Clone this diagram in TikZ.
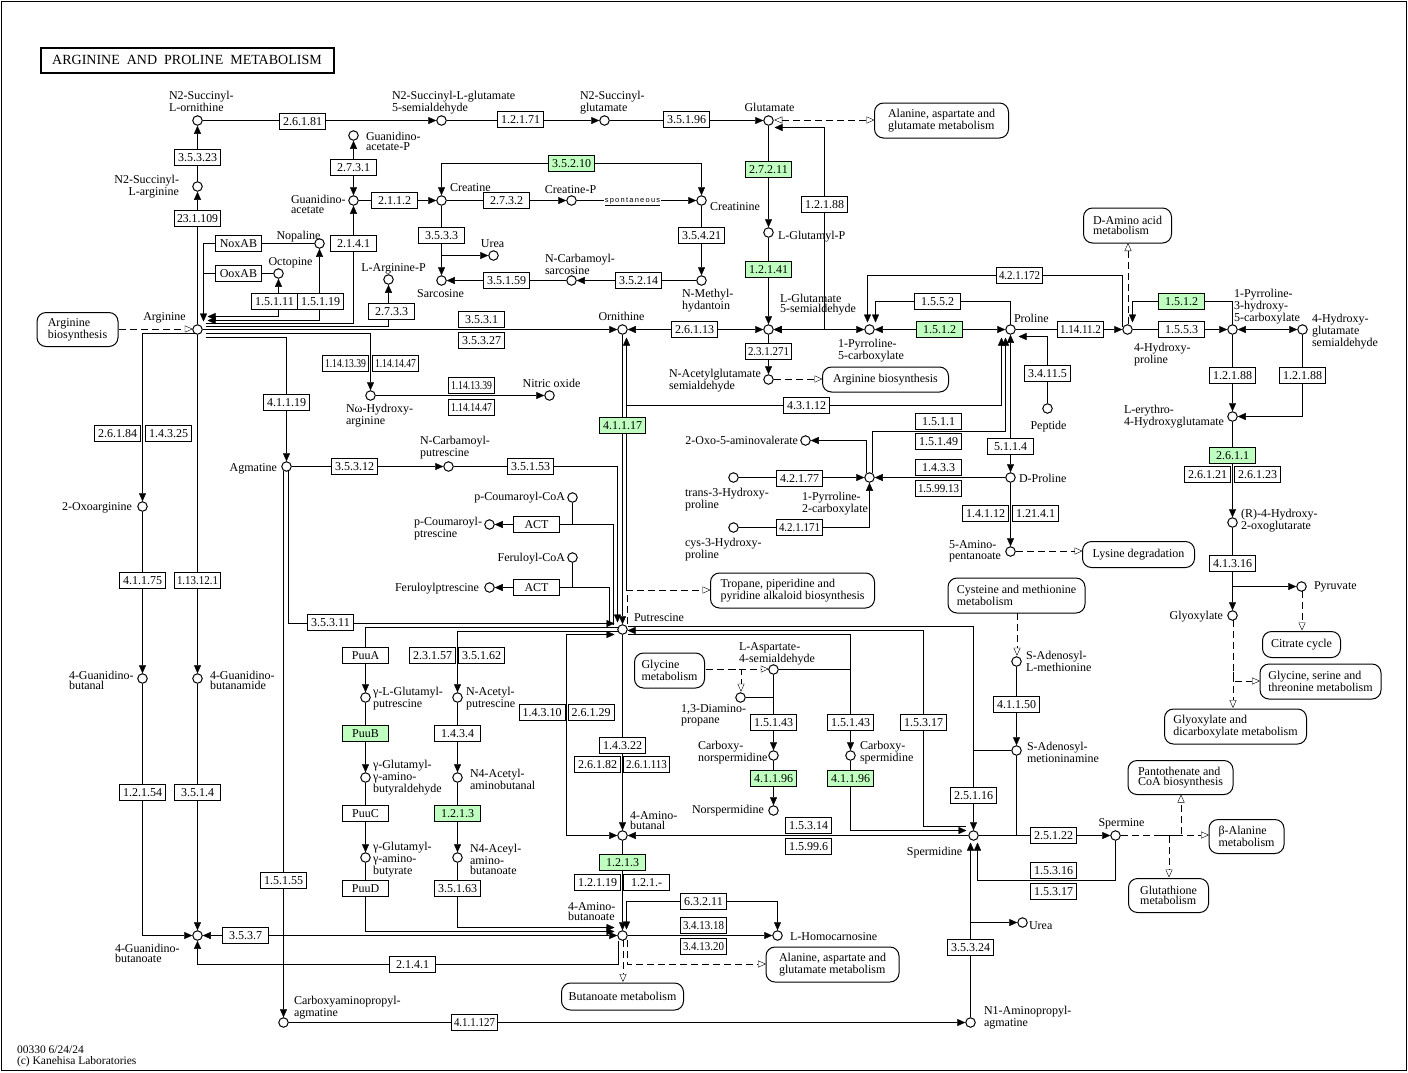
\documentclass[tikz,border=0pt]{standalone}
\usepackage{fontspec}
\usepackage{graphicx}
\setmainfont{Liberation Serif}
\newfontfamily\sansf{Liberation Sans}
\usetikzlibrary{arrows.meta,backgrounds,calc}
\definecolor{kg}{HTML}{BFFFBF}
\newcommand\lfnt{\fontsize{12}{10.5}\selectfont}
\newcommand\ecfnt{\fontsize{12}{12}\selectfont}
\newcommand\ect[1]{\sbox0{#1}\ifdim\wd0>41pt\resizebox{41pt}{\ht0}{#1}\else\box0\fi}
\tikzset{
  >={Triangle[length=8pt,width=7pt]},
  Otip/.tip={Triangle[open,length=8pt,width=7pt]},
  cpd/.style={circle,draw,fill=white,inner sep=0pt,minimum size=9.5pt},
  ec/.style={draw,fill=white,inner sep=0pt,minimum width=46pt,minimum height=16pt,font=\ecfnt},
  ecg/.style={ec,fill=kg},
  mp/.style={draw,fill=white,rounded corners=9pt,inner sep=0pt,align=left,font=\lfnt},
  lb/.style={inner sep=0pt,font=\lfnt,align=left},
  lbr/.style={inner sep=0pt,font=\lfnt,align=right},
  dsh/.style={dash pattern=on 7pt off 4pt,transform canvas={shift={(0.5pt,0.5pt)}}}
}
\begin{document}
\begin{tikzpicture}[x=1pt,y=-1pt,line width=1pt]
\useasboundingbox (-0.5,-0.5) rectangle (1407.5,1071.5);
\draw (1,1) rectangle (1406,1070);
\node[draw,line width=2pt,inner sep=0pt,minimum width=293pt,minimum height=25pt,font=\fontsize{14}{14}\selectfont] (title) at (186.5,59.5) {ARGININE\ \ AND\ \ PROLINE\ \ METABOLISM};
\node[lb,anchor=west,font=\fontsize{11.5}{11.5}\selectfont] (foot) at (16,1056) {00330 6/24/24\\(c) Kanehisa Laboratories};
% ---------------- compounds
\foreach \n/\x/\y in {arg/197/329,n2sa/197/186,n2so/197/120,n2sgsa/441/120,n2sg/604/120,glu/768/120,
 gaap/353/135,gaa/353/200,nop/319/243,oct/278/273,argp/388/279,crt/441/200,crp/571/200,crn/701/200,
 urea1/493/255,sar/441/280,ncs/571/280,nmh/701/280,glup/768/232,lgsa/768/329,orn/622/329,nags/768/379,
 p5c/869/329,pro/1010/329,hyp/1127/329,p3h/1232/329,hgsa/1302/329,leh/1232/416,rhog/1232/522,
 pyr/1301/586,glyox/1232/615,pep/1047/408,dpro/1010/477,ap5/1010/551,oxo/805/440,p2c/869/477,
 t3hp/733/477,c3hp/733/527,noha/370/395,no/549/395,agm/286/466,ncp/448/466,pcoa/572/497,pcp/489/524,
 fcoa/572/557,fp/489/587,put/622/629,o2arg/142/506,gbal/142/678,gbam/197/678,gbo/197/935,cap/283/1022,
 gglp/365/697,ggab/365/777,ggaba/365/857,nap/457/697,n4a/457/777,n4aab/457/857,aba/622/835,abo/622/935,
 hcar/777/935,lasa/773/669,dap/740/697,cnspd/773/755,nspd/773/810,cspd/850/755,spd/973/835,
 sam/1016/661,samn/1016/750,spm/1115/835,urea2/1022/922,n1apa/970/1022}
 {\node[cpd] (\n) at (\x,\y) {};}
% ---------------- enzymes
\foreach \n/\x/\y/\t in {e1/302/121/2.6.1.81,e2/520/119/1.2.1.71,e3/686/119/3.5.1.96,e4/197/157/3.5.3.23,
 e5/197/218/23.1.109,e6/353/167/2.7.3.1,e7/394/200/2.1.1.2,e8/353/243/2.1.4.1,e9/238/243/NoxAB,
 e10/238/273/OoxAB,e11/274/301/1.5.1.11,e12/320/301/1.5.1.19,e13/391/311/2.7.3.3,e15/506/200/2.7.3.2,
 e16/441/235/3.5.3.3,e17/701/235/3.5.4.21,e18/506/280/3.5.1.59,e19/638/280/3.5.2.14,e20/481/319/3.5.3.1,
 e21/481/340/3.5.3.27,e23/824/204/1.2.1.88,e25/694/329/2.6.1.13,e26/768/351/2.3.1.271,
 e27/1019/275/4.2.1.172,e28/937/301/1.5.5.2,e30/1080/329/1.14.11.2,e32/1181/329/1.5.5.3,
 e33/1232/375/1.2.1.88,e34/1302/375/1.2.1.88,e36/1207/474/2.6.1.21,e37/1257/474/2.6.1.23,
 e38/1232/563/4.1.3.16,e39/1047/373/3.4.11.5,e40/1010/446/5.1.1.4,e41/985/513/1.4.1.12,
 e42/1035/513/1.21.4.1,e43/938/421/1.5.1.1,e44/938/441/1.5.1.49,e45/938/467/1.4.3.3,
 e46/938/488/1.5.99.13,e47/799/478/4.2.1.77,e48/799/527/4.2.1.171,e49/806/405/4.3.1.12,
 e54/286/402/4.1.1.19,e55/117/433/2.6.1.84,e56/168/433/1.4.3.25,e57/142/580/4.1.1.75,
 e58/197/580/1.13.12.1,e59/354/466/3.5.3.12,e60/530/466/3.5.1.53,e61/536/524/ACT,e62/536/587/ACT,
 e64/330/622/3.5.3.11,e65/365/655/PuuA,e66/432/655/2.3.1.57,e67/481/655/3.5.1.62,e69/457/733/1.4.3.4,
 e70/365/813/PuuC,e72/365/888/PuuD,e73/457/888/3.5.1.63,e74/541.5/712/1.4.3.10,e75/590.5/712/2.6.1.29,
 e76/622/745/1.4.3.22,e77/597/764/2.6.1.82,e78/646/764/2.6.1.113,e80/597/882/1.2.1.19,e81/646/882/1.2.1.-,
 e82/703/901/6.3.2.11,e83/703/925/3.4.13.18,e84/703/946/3.4.13.20,e85/412/964/2.1.4.1,e86/245/935/3.5.3.7,
 e87/142/792/1.2.1.54,e88/197/792/3.5.1.4,e89/283/880/1.5.1.55,e90/474/1022/4.1.1.127,e91/773/722/1.5.1.43,
 e92/850/722/1.5.1.43,e95/923/722/1.5.3.17,e96/808/825/1.5.3.14,e97/808/846/1.5.99.6,e98/973/795/2.5.1.16,
 e99/1016/704/4.1.1.50,e100/1053/835/2.5.1.22,e101/1053/870/1.5.3.16,e102/1053/891/1.5.3.17,
 e103/970/947/3.5.3.24,e50/345/363/1.14.13.39,e51/395/363/1.14.14.47,e52/471/385/1.14.13.39,e53/471/407/1.14.14.47}
 {\node[ec] (\n) at (\x,\y) {\ect{\t}};}
\foreach \n/\x/\y/\t in {e14/571/163/3.5.2.10,e22/768/169/2.7.2.11,e24/768/269/1.2.1.41,e29/939/329/1.5.1.2,
 e31/1181/301/1.5.1.2,e35/1232/455/2.6.1.1,e63/622/425/4.1.1.17,e68/365/733/PuuB,e71/457/813/1.2.1.3,
 e79/622/862/1.2.1.3,e93/773/778/4.1.1.96,e94/850/778/4.1.1.96}
 {\node[ecg] (\n) at (\x,\y) {\ect{\t}};}
% ---------------- maps
\node[mp,minimum width=81pt,minimum height=34pt] (mArgBio) at (77,329) {Arginine\\biosynthesis};
\node[mp,minimum width=134pt,minimum height=35pt] (mAlaTop) at (941,120) {Alanine, aspartate and\\glutamate metabolism};
\node[mp,minimum width=126pt,minimum height=25pt] (mArgBio2) at (885,379) {Arginine biosynthesis};
\node[mp,minimum width=88pt,minimum height=35pt] (mDAA) at (1127,225) {D-Amino acid\\metabolism};
\node[mp,minimum width=164pt,minimum height=35pt] (mTrop) at (792,590) {Tropane, piperidine and\\pyridine alkaloid biosynthesis};
\node[mp,minimum width=112pt,minimum height=26pt] (mLys) at (1138,554) {Lysine degradation};
\node[mp,minimum width=137pt,minimum height=35pt] (mCys) at (1016,595) {Cysteine and methionine\\metabolism};
\node[mp,minimum width=78pt,minimum height=26pt] (mCit) at (1301,644) {Citrate cycle};
\node[mp,minimum width=121pt,minimum height=35pt] (mGly) at (1320,681) {Glycine, serine and\\threonine metabolism};
\node[mp,minimum width=142pt,minimum height=35pt] (mGlx) at (1235,726) {Glyoxylate and\\dicarboxylate metabolism};
\node[mp,minimum width=70pt,minimum height=35pt] (mGlyc) at (669,670) {Glycine\\metabolism};
\node[mp,minimum width=105pt,minimum height=34pt] (mPant) at (1180,777) {Pantothenate and\\CoA biosynthesis};
\node[mp,minimum width=75pt,minimum height=34pt] (mBala) at (1246,836) {β-Alanine\\metabolism};
\node[mp,minimum width=80pt,minimum height=34pt] (mGlut) at (1168,895) {Glutathione\\metabolism};
\node[mp,minimum width=122pt,minimum height=27pt] (mBut) at (622,996) {Butanoate metabolism};
\node[mp,minimum width=133pt,minimum height=35pt] (mAlaBot) at (832,964) {Alanine, aspartate and\\glutamate metabolism};
% ---------------- labels
\node[lb,anchor=west] (t1) at (168,101) {N2-Succinyl-\\L-ornithine};
\node[lbr,anchor=east] (t2) at (179,186) {N2-Succinyl-\\L-arginine};
\node[lb,anchor=west] (t3) at (391,102) {N2-Succinyl-L-glutamate\\5-semialdehyde};
\node[lb,anchor=west] (t4) at (579,102) {N2-Succinyl-\\glutamate};
\node[lb] (t5) at (769,107) {Glutamate};
\node[lb,anchor=west] (t6) at (365,141) {Guanidino-\\acetate-P};
\node[lb,anchor=west] (t7) at (290,204) {Guanidino-\\acetate};
\node[lb] (t8) at (298,236) {Nopaline};
\node[lb] (t9) at (290,262) {Octopine};
\node[lb] (t10) at (164,317) {Arginine};
\node[lb] (t11) at (393,268) {L-Arginine-P};
\node[lb,anchor=west] (t12) at (449,187) {Creatine};
\node[lb] (t13) at (570,189) {Creatine-P};
\node[lb,anchor=west] (t14) at (709,206) {Creatinine};
\node[lb] (t15) at (492,243) {Urea};
\node[lb] (t16) at (440,293) {Sarcosine};
\node[lb,anchor=west] (t17) at (544,264) {N-Carbamoyl-\\sarcosine};
\node[lb,anchor=west] (t18) at (681,300) {N-Methyl-\\hydantoin};
\node[lb,anchor=west] (t19) at (777,236) {L-Glutamyl-P};
\node[lb,anchor=west] (t20) at (779,304) {L-Glutamate\\5-semialdehyde};
\node[lb] (t21) at (621,316) {Ornithine};
\node[lb,anchor=west] (t22) at (668,380) {N-Acetylglutamate\\semialdehyde};
\node[lb,anchor=west] (t23) at (837,350) {1-Pyrroline-\\5-carboxylate};
\node[lb,anchor=west] (t24) at (1013,318) {Proline};
\node[lb,anchor=west] (t25) at (1133,354) {4-Hydroxy-\\proline};
\node[lb,anchor=west] (t26) at (1233,306) {1-Pyrroline-\\3-hydroxy-\\5-carboxylate};
\node[lb,anchor=west] (t27) at (1311,331) {4-Hydroxy-\\glutamate\\semialdehyde};
\node[lb,anchor=west] (t28) at (1123,416) {L-erythro-\\4-Hydroxyglutamate};
\node[lb,anchor=west] (t29) at (1240,520) {(R)-4-Hydroxy-\\2-oxoglutarate};
\node[lb,anchor=west] (t30) at (1313,586) {Pyruvate};
\node[lb,anchor=east] (t31) at (1223,616) {Glyoxylate};
\node[lb] (t32) at (1048,426) {Peptide};
\node[lb,anchor=west] (t33) at (1018,478) {D-Proline};
\node[lb,anchor=west] (t34) at (948,551) {5-Amino-\\pentanoate};
\node[lb,anchor=east] (t35) at (798,440) {2-Oxo-5-aminovalerate};
\node[lb,anchor=west] (t36) at (684,499) {trans-3-Hydroxy-\\proline};
\node[lb,anchor=west] (t37) at (801,503) {1-Pyrroline-\\2-carboxylate};
\node[lb,anchor=west] (t38) at (684,549) {cys-3-Hydroxy-\\proline};
\node[lb,anchor=west] (t39) at (345,415) {Nω-Hydroxy-\\arginine};
\node[lb] (t40) at (551,383) {Nitric oxide};
\node[lb,anchor=east] (t41) at (277,468) {Agmatine};
\node[lb,anchor=west] (t42) at (419,447) {N-Carbamoyl-\\putrescine};
\node[lb,anchor=east] (t43) at (565,497) {p-Coumaroyl-CoA};
\node[lb,anchor=west] (t44) at (413,528) {p-Coumaroyl-\\ptrescine};
\node[lb,anchor=east] (t45) at (565,558) {Feruloyl-CoA};
\node[lb,anchor=east] (t46) at (479,588) {Feruloylptrescine};
\node[lb,anchor=west] (t47) at (633,617) {Putrescine};
\node[lb,anchor=east] (t48) at (132,507) {2-Oxoarginine};
\node[lb,anchor=west] (t49) at (68,680) {4-Guanidino-\\butanal};
\node[lb,anchor=west] (t50) at (209,680) {4-Guanidino-\\butanamide};
\node[lb,anchor=west] (t51) at (114,953) {4-Guanidino-\\butanoate};
\node[lb,anchor=west] (t52) at (293,1007) {Carboxyaminopropyl-\\agmatine};
\node[lb,anchor=west] (t53) at (372,698) {γ-L-Glutamyl-\\putrescine};
\node[lb,anchor=west] (t54) at (465,698) {N-Acetyl-\\putrescine};
\node[lb,anchor=west] (t55) at (372,777) {γ-Glutamyl-\\γ-amino-\\butyraldehyde};
\node[lb,anchor=west] (t56) at (469,779) {N4-Acetyl-\\aminobutanal};
\node[lb,anchor=west] (t57) at (372,859) {γ-Glutamyl-\\γ-amino-\\butyrate};
\node[lb,anchor=west] (t58) at (469,859) {N4-Aceyl-\\amino-\\butanoate};
\node[lb,anchor=west] (t59) at (629,820) {4-Amino-\\butanal};
\node[lb,anchor=west] (t60) at (567,911) {4-Amino-\\butanoate};
\node[lb,anchor=west] (t61) at (789,936) {L-Homocarnosine};
\node[lb,anchor=west] (t62) at (738,653) {L-Aspartate-\\4-semialdehyde};
\node[lb,anchor=west] (t63) at (680,715) {1,3-Diamino-\\propane};
\node[lb,anchor=west] (t64) at (697,752) {Carboxy-\\norspermidine};
\node[lb,anchor=east] (t65) at (764,810) {Norspermidine};
\node[lb,anchor=west] (t66) at (859,752) {Carboxy-\\spermidine};
\node[lb] (t67) at (934,852) {Spermidine};
\node[lb,anchor=west] (t68) at (1025,661) {S-Adenosyl-\\L-methionine};
\node[lb,anchor=west] (t69) at (1026,752) {S-Adenosyl-\\metioninamine};
\node[lb] (t70) at (1121,823) {Spermine};
\node[lb,anchor=west] (t71) at (1028,925) {Urea};
\node[lb,anchor=west] (t72) at (983,1017) {N1-Aminopropyl-\\agmatine};
\node[fill=white,inner sep=1pt,font=\sansf\fontsize{7.5}{8}\selectfont] (spont) at (632,201) {\underline{s\,p\,o\,n\,t\,a\,n\,e\,o\,u\,s}};
% ---------------- connectors
\begin{pgfonlayer}{background}
\draw[->] (arg) -- (n2sa);
\draw[->] (n2sa) -- (n2so);
\draw[->] (n2so) -- (n2sgsa);
\draw[->] (n2sgsa) -- (n2sg);
\draw[->] (n2sg) -- (glu);
\draw[dsh,Otip-Otip] (glu) -- (mAlaTop);
\draw[->] (glu) -- (glup);
\draw[->] (glup) -- (lgsa);
\draw[<->] (lgsa) -- (824,329) -- (824,127) -- (774,127);
\draw[<->] (orn) -- (lgsa);
\draw[<->] (lgsa) -- (p5c);
\draw[->] (lgsa) -- (nags);
\draw[dsh,-Otip] (nags) -- (mArgBio2);
\draw[<->] (p5c) -- (pro);
\draw[->] (pro.center) -- (1010,301) -- (875,301) -- (875,322);
\draw[->] (1122,326) -- (1122,275) -- (867,275) -- (867,322);
\draw[->] (pro) -- (hyp);
\draw[->] (pep) -- (1047,336) -- (1018,336);
\draw[<->] (626,337) -- (626,405) -- (1001,405) -- (1001,337);
\draw (626,400) -- (626,590);
\draw[->] (872,472) -- (872,431) -- (1005,431) -- (1005,337);
\draw[->] (866,472) -- (866,440) -- (oxo);
\draw[<->] (pro) -- (dpro);
\draw[->] (dpro) -- (p2c);
\draw[->] (dpro) -- (ap5);
\draw[dsh,-Otip] (ap5) -- (mLys.west |- ap5);
\draw[->] (t3hp) -- (p2c);
\draw[->] (c3hp) -- (869,527) -- (p2c);
\draw[dsh,-Otip] (hyp) -- (mDAA);
\draw[->] (p3h.center) -- (1232,301) -- (1132,301) -- (1132,322);
\draw[->] (hyp) -- (p3h);
\draw[<->] (p3h) -- (hgsa);
\draw[->] (p3h) -- (leh);
\draw[->] (hgsa) -- (1302,416) -- (leh);
\draw[->] (leh) -- (rhog);
\draw[->] (rhog) -- (glyox);
\draw[->] (1232,571) -- (1232,586) -- (pyr);
\draw[dsh,-Otip] (pyr) -- (mCit);
\draw[dsh,-Otip] (glyox) -- (mGlx.north -| glyox);
\draw[dsh,-Otip] (1232,672) -- (1232,681) -- (mGly);
% arginine
\draw[dsh,-Otip] (mArgBio) -- (arg);
\draw[->] (194,333) -- (142,333) -- (o2arg);
\draw[->] (arg) -- (gbam);
\draw[->] (o2arg) -- (gbal);
\draw[->] (gbal) -- (142,935) -- (gbo);
\draw[->] (gbam) -- (gbo);
\draw[<->] (gbo) -- (abo);
\draw[->] (618,940) -- (618,964) -- (197,964) -- (gbo);
\draw[<->] (207,316) -- (278,316) -- (oct);
\draw[<->] (207,320) -- (319,320) -- (nop);
\draw[->] (205,323) -- (353,323) -- (gaa);
\draw[->] (205,326) -- (388,326) -- (argp);
\draw[->] (arg) -- (orn);
\draw[->] (205,333) -- (370,333) -- (noha);
\draw[->] (205,337) -- (286,337) -- (agm);
\draw[->] (nop) -- (203,243) -- (203,321);
\draw (oct) -- (203,273) -- (203,290);
% guanidinoacetate / creatine
\draw[<->] (gaap) -- (gaa);
\draw[->] (gaa) -- (crt);
\draw[<->] (crt) -- (441,163) -- (701,163) -- (crn);
\draw[->] (crt) -- (crp);
\draw[->] (crp) -- (crn);
\draw[->] (crt) -- (sar);
\draw[->] (441,244) -- (441,255) -- (urea1);
\draw[->] (crn) -- (nmh);
\draw[->] (nmh) -- (ncs);
\draw[->] (ncs) -- (sar);
\draw[->] (noha) -- (no);
% agmatine / putrescine
\draw[->] (agm) -- (ncp);
\draw[->] (ncp) -- (617,466) -- (617,622);
\draw[->] (288,470) -- (288,623) -- (614,623);
\draw[->] (283,470) -- (cap);
\draw[->] (613,624) -- (613,524) -- (pcp);
\draw[->] (609,624) -- (609,587) -- (fp);
\draw (pcoa) -- (572,524) -- (562,524);
\draw (fcoa) -- (572,587) -- (562,587);
\draw[->] (orn) -- (put);
\draw[dsh,-Otip] (626,624) -- (626,590) -- (mTrop);
\draw[->] (617,627) -- (365,627) -- (gglp);
\draw[->] (617,631) -- (457,631) -- (nap);
\draw[<->] (614,634) -- (566,634) -- (566,835) -- (aba);
\draw[->] (gglp) -- (ggab);
\draw[->] (ggab) -- (ggaba);
\draw[->] (nap) -- (n4a);
\draw[->] (n4a) -- (n4aab);
\draw[->] (ggaba) -- (365,931) -- (614,931);
\draw[->] (n4aab) -- (457,927) -- (614,927);
\draw[->] (put) -- (aba);
\draw[->] (aba) -- (abo);
\draw[<->] (626,929) -- (626,901) -- (777,901) -- (hcar);
\draw[->] (abo) -- (hcar);
\draw[dsh,-Otip] (abo) -- (mBut);
\draw[dsh,-Otip] (626,940) -- (626,964) -- (mAlaBot);
% polyamines
\draw[->] (627,626) -- (973,626) -- (spd);
\draw[->] (965,826) -- (923,826) -- (923,630) -- (627,630);
\draw[->] (627,634) -- (850,634) -- (cspd);
\draw (lasa) -- (850,669) -- (850,685);
\draw[->] (lasa) -- (cnspd);
\draw (dap) -- (773,697) -- (773,710);
\draw[->] (cnspd) -- (nspd);
\draw[->] (cspd) -- (850,830) -- (966,830);
\draw[dsh,-Otip] (mGlyc.east |- lasa) -- (lasa);
\draw[dsh,-Otip] (728,669) -- (740,669) -- (dap);
\draw[->] (spd) -- (aba);
\draw[dsh,-Otip] (mCys) -- (sam);
\draw[->] (sam) -- (samn);
\draw (samn) -- (973,750) -- (973,765);
\draw (samn) -- (1016,835) -- (1030,835);
\draw[->] (spd) -- (spm);
\draw[->] (spm) -- (1115,880) -- (977,880) -- (977,842);
\draw[->] (n1apa) -- (970,842);
\draw[->] (970,938) -- (970,922) -- (urea2);
\draw[->] (cap) -- (n1apa);
\draw[dsh,-Otip] (spm) -- (mBala.west |- spm);
\draw[dsh,-Otip] (1158,835) -- (1168,835) -- (mGlut);
\draw[dsh,-Otip] (1170,835) -- (1180,835) -- (mPant);
\end{pgfonlayer}
\end{tikzpicture}
\end{document}
